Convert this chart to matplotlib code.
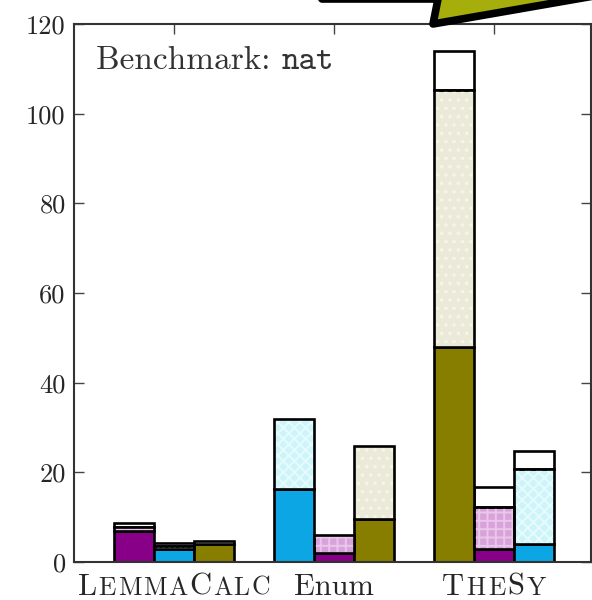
import matplotlib
matplotlib.use("Agg")
import matplotlib.pyplot as plt
from matplotlib.patches import Polygon
from matplotlib.offsetbox import TextArea, HPacker, AnnotationBbox

# ---------------- data ----------------
groups = ["LemmaCalc", "Enum", "TheSy"]
yticks = [0, 20, 40, 60, 80, 100, 120]

# bar slot (-1 left, 0 middle, +1 right) of each series within each group
purple_slot = [-1, 0, 0]
blue_slot = [0, -1, 1]
olive_slot = [1, 1, -1]

# stacked segments: solid, light hatched, white
purple_solid = [7.0, 2.0, 3.0]
purple_hatch = [0.7, 4.0, 9.2]
purple_white = [1.1, 0.0, 4.5]

blue_solid = [3.0, 16.2, 4.0]
blue_hatch = [0.5, 15.6, 16.7]
blue_white = [0.7, 0.0, 4.0]

olive_solid = [4.0, 9.7, 48.0]
olive_hatch = [0.0, 16.2, 57.3]
olive_white = [0.7, 0.0, 8.7]

# ---------------- style ----------------
plt.rcParams["hatch.linewidth"] = 1.4
TXT = "#262626"

fig = plt.figure(figsize=(5.92, 6.00), dpi=100)
ax = fig.add_axes([74 / 592, 38 / 600, 517 / 592, 538 / 600])

bw = 0.25
series = [
    (purple_slot, purple_solid, purple_hatch, purple_white, "#880088", "#d9a2da", "#e9c6ea", "++"),
    (blue_slot, blue_solid, blue_hatch, blue_white, "#0ca6e4", "#cdf5f9", "#e6fbfd", "xxx"),
    (olive_slot, olive_solid, olive_hatch, olive_white, "#877e00", "#ebead8", "#f5f4ea", ".."),
]

for slot, solid, hatch_v, white_v, c_solid, c_light, c_hatch, hpat in series:
    for gi in range(len(groups)):
        x = gi + slot[gi] * bw
        bottom = 0.0
        if solid[gi] > 0:
            ax.bar(x, solid[gi], bw, bottom=bottom, color=c_solid,
                   edgecolor="black", linewidth=1.9, zorder=3)
            bottom += solid[gi]
        if hatch_v[gi] > 0:
            ax.bar(x, hatch_v[gi], bw, bottom=bottom, color=c_light,
                   edgecolor="none", linewidth=0, zorder=3)
            ax.bar(x, hatch_v[gi], bw, bottom=bottom, facecolor="none",
                   edgecolor=c_hatch, hatch=hpat, linewidth=0, zorder=3.1)
            ax.bar(x, hatch_v[gi], bw, bottom=bottom, facecolor="none",
                   edgecolor="black", linewidth=1.9, zorder=3.2)
            bottom += hatch_v[gi]
        if white_v[gi] > 0:
            ax.bar(x, white_v[gi], bw, bottom=bottom, color="white",
                   edgecolor="black", linewidth=1.9, zorder=3)
            bottom += white_v[gi]

ax.set_xlim(-0.625, 2.606)
ax.set_ylim(0, 120)
ax.set_yticks(yticks)
ax.set_yticklabels([str(v) for v in yticks], fontfamily="cmr10", fontsize=19, color=TXT)
ax.set_xticks(range(len(groups)))
ax.set_xticklabels([])
ax.tick_params(axis="both", direction="in", length=7, width=1.0, color="#444444",
               top=True, right=True, pad=6)
for s in ax.spines.values():
    s.set_color("#333333")
    s.set_linewidth(1.5)
    s.set_zorder(5)

# benchmark label
ta1 = TextArea("Benchmark: ", textprops=dict(family="cmr10", size=24, color="#333333"))
ta2 = TextArea("nat", textprops=dict(family="cmtt10", size=24, color="#333333"))
box = HPacker(children=[ta1, ta2], align="baseline", pad=0, sep=0)
ab = AnnotationBbox(box, (22 / 517, 1 - 22 / 538), xycoords="axes fraction",
                    box_alignment=(0, 1), frameon=False, pad=0)
ax.add_artist(ab)

# small-caps group labels
def smallcaps(parts, sep):
    kids = []
    for txt, big in parts:
        if big:
            kids.append(TextArea(txt, textprops=dict(family="cmr10", size=22, color=TXT)))
        else:
            for ch in txt:
                kids.append(TextArea(ch, textprops=dict(family="cmr10", size=18.5, color=TXT)))
    return HPacker(children=kids, align="baseline", pad=0, sep=sep)

label_parts = [
    [("L", True), ("EMMA", False), ("C", True), ("ALC", False)],
    [("Enum", True)],
    [("T", True), ("HE", False), ("S", True), ("Y", False)],
]
label_sep = [1.2, 0.0, 1.6]
for gi, parts in enumerate(label_parts):
    ab = AnnotationBbox(smallcaps(parts, label_sep[gi]), (gi, 0),
                        xycoords=("data", "axes fraction"),
                        xybox=(0, -8), boxcoords="offset points",
                        box_alignment=(0.5, 1), frameon=False, pad=0,
                        annotation_clip=False)
    ax.add_artist(ab)

# decorative arrow at top (figure pixel coords)
ov = fig.add_axes([0, 0, 1, 1], zorder=10)
ov.set_xlim(0, 592)
ov.set_ylim(600, 0)
ov.axis("off")
ov.patch.set_alpha(0)
arrow = Polygon([(300, -40), (322, -1), (438, -1), (433, 24), (640, -12), (640, -40)],
                closed=True, facecolor="#a6ae0b", edgecolor="black",
                linewidth=5.5, joinstyle="round")
ov.add_patch(arrow)

fig.savefig("out.png", dpi=100)
